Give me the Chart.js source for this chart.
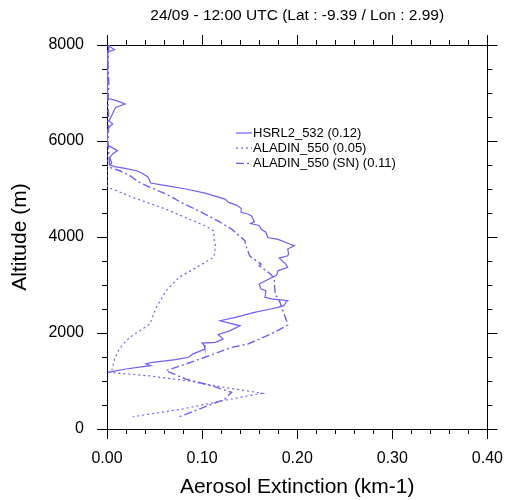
<!DOCTYPE html>
<html>
<head>
<meta charset="utf-8">
<script src="https://cdn.jsdelivr.net/npm/chart.js@4.4.1/dist/chart.umd.min.js"></script>
<style>
  html, body { margin: 0; padding: 0; background: #fff; }
  #wrap { width: 513px; height: 500px; }
</style>
</head>
<body>
<div id="wrap"><canvas id="profile" width="513" height="500"></canvas></div>
<script>
const plotTitle = "24/09 - 12:00 UTC (Lat : -9.39 / Lon : 2.99)";
const seriesLabels = ["HSRL2_532 (0.12)", "ALADIN_550 (0.05)", "ALADIN_550 (SN) (0.11)"];
const xTicks = [0, 0.1, 0.2, 0.3, 0.4];
const yTicks = [0, 2000, 4000, 6000, 8000];

// HSRL2 532 nm profile
const hsrlAlt = [8000, 7980, 7900, 7860, 7700, 7400, 7100, 6890, 6840, 6770, 6700, 6530, 6420, 6355, 6285, 6215,
  6000, 5915, 5800, 5730, 5660, 5540, 5500, 5465, 5430, 5380, 5330, 5250, 5125, 5070, 5000, 4915, 4790, 4720,
  4665, 4600, 4515, 4480, 4440, 4320, 4280, 4240, 4165, 4100, 3990, 3950, 3855, 3820, 3750, 3650, 3610, 3560,
  3435, 3365, 3300, 3195, 3160, 3020, 2915, 2880, 2845, 2745, 2710, 2675, 2640, 2570, 2535, 2500, 2430, 2325,
  2255, 2150, 2045, 1970, 1875, 1805, 1790, 1750, 1665, 1560, 1495, 1445, 1390, 1355, 1320, 1300, 1250, 1180];
const hsrlExt = [0.001, 0.002, 0.008, 0.001, 0.000, 0.001, 0.000, 0.001, 0.010, 0.019, 0.009, 0.005, 0.002, 0.006, 0.002, 0.000,
  0.001, 0.000, 0.011, 0.006, 0.003, 0.005, 0.003, 0.008, 0.019, 0.031, 0.037, 0.043, 0.046, 0.062, 0.083, 0.103, 0.124, 0.128,
  0.136, 0.141, 0.141, 0.148, 0.152, 0.155, 0.151, 0.160, 0.162, 0.167, 0.169, 0.180, 0.192, 0.197, 0.190, 0.191, 0.190, 0.181,
  0.188, 0.190, 0.180, 0.178, 0.174, 0.160, 0.162, 0.167, 0.167, 0.166, 0.173, 0.190, 0.188, 0.186, 0.180, 0.172, 0.155, 0.135,
  0.119, 0.140, 0.129, 0.117, 0.122, 0.114, 0.100, 0.102, 0.103, 0.090, 0.086, 0.072, 0.048, 0.041, 0.046, 0.038, 0.020, 0.001];

// ALADIN 550 nm profile
const aladinAlt = [8000, 7000, 6000, 5500, 5100, 5035, 4965, 4825, 4580, 4375, 4235, 4130, 3890, 3820, 3645, 3575,
  3400, 3160, 2880, 2535, 2185, 1910, 1770, 1665, 1460, 1215, 1180, 1105, 1000, 865, 745, 625, 415, 255];
const aladinExt = [0.000, 0.000, 0.000, 0.000, 0.000, 0.001, 0.010, 0.027, 0.062, 0.086, 0.103, 0.112, 0.113, 0.114, 0.113, 0.112,
  0.097, 0.076, 0.062, 0.052, 0.045, 0.024, 0.017, 0.013, 0.008, 0.005, 0.002, 0.045, 0.086, 0.124, 0.163, 0.131, 0.079, 0.027];

// ALADIN 550 nm (SN) profile
const aladinSnAlt = [8000, 7600, 7200, 6800, 6400, 6000, 5700, 5450, 5385, 5280, 5140, 5035, 4895, 4700, 4530, 4330,
  4165, 4060, 3925, 3820, 3610, 3575, 3435, 3400, 3230, 3125, 3020, 2780, 2745, 2465, 2185, 2165, 1980, 1770,
  1700, 1495, 1355, 1215, 1040, 900, 765, 625, 415, 255];
const aladinSnExt = [0.002, 0.001, 0.002, 0.001, 0.002, 0.001, 0.002, 0.003, 0.013, 0.024, 0.034, 0.045, 0.062, 0.080, 0.098, 0.117,
  0.131, 0.137, 0.145, 0.146, 0.150, 0.152, 0.162, 0.160, 0.172, 0.176, 0.176, 0.177, 0.180, 0.185, 0.190, 0.190, 0.1725, 0.148,
  0.131, 0.103, 0.083, 0.062, 0.083, 0.110, 0.131, 0.124, 0.097, 0.076];

const lineColor = "#7a5af5";
const fontFamily = "'Liberation Sans', Arial, Helvetica, sans-serif";

function toPoints(alts, exts) {
  return alts.map((a, i) => ({ x: exts[i], y: a }));
}

// draws the top title, the in-plot legend and the minor ticks
const extras = {
  id: "extras",
  afterDraw(chart) {
    const c = chart.ctx;
    const area = chart.chartArea;
    c.save();
    c.fillStyle = "#000";
    c.font = "15.5px " + fontFamily;
    c.textAlign = "center";
    c.textBaseline = "middle";
    c.fillText(plotTitle, (area.left + area.right) / 2, 16);

    // minor ticks
    c.strokeStyle = "#000";
    c.lineWidth = 1;
    c.beginPath();
    for (let v = 0.02; v < 0.4; v += 0.02) {
      if (Math.abs(v * 10 - Math.round(v * 10)) < 1e-6) continue;
      const px = Math.round(chart.scales.x.getPixelForValue(v)) + 0.5;
      c.moveTo(px, area.bottom); c.lineTo(px, area.bottom + 5);
      c.moveTo(px, area.top); c.lineTo(px, area.top - 5);
    }
    for (let v = 500; v < 8000; v += 500) {
      if (v % 2000 === 0) continue;
      const py = Math.round(chart.scales.y.getPixelForValue(v)) + 0.5;
      c.moveTo(area.left, py); c.lineTo(area.left - 5, py);
      c.moveTo(area.right, py); c.lineTo(area.right + 5, py);
    }
    c.stroke();

    // legend
    c.font = "13px " + fontFamily;
    c.textAlign = "left";
    chart.data.datasets.forEach((ds, i) => {
      const y = 133 + i * 15.2;
      c.strokeStyle = ds.borderColor;
      c.lineWidth = 1.2;
      c.setLineDash(ds.borderDash || []);
      c.beginPath();
      c.moveTo(236, y); c.lineTo(252, y);
      c.stroke();
      c.setLineDash([]);
      c.fillStyle = "#000";
      c.fillText(ds.label, 253, y);
    });
    c.restore();
  }
};

const axisLine = { display: true, color: "#000", width: 1 };
const tickGrid = { drawOnChartArea: false, drawTicks: true, tickLength: 10, color: "#000", lineWidth: 1 };

new Chart(document.getElementById("profile"), {
  type: "scatter",
  data: {
    datasets: [
      { label: seriesLabels[0], data: toPoints(hsrlAlt, hsrlExt), borderColor: lineColor, borderWidth: 1.2 },
      { label: seriesLabels[1], data: toPoints(aladinAlt, aladinExt), borderColor: lineColor, borderWidth: 1.2, borderDash: [2, 3] },
      { label: seriesLabels[2], data: toPoints(aladinSnAlt, aladinSnExt), borderColor: lineColor, borderWidth: 1.4, borderDash: [8, 3, 2, 3] }
    ].map(d => Object.assign(d, { showLine: true, pointRadius: 0, fill: false, tension: 0 }))
  },
  options: {
    responsive: false,
    animation: false,
    devicePixelRatio: 1,
    layout: { padding: 0 },
    plugins: { legend: { display: false }, title: { display: false }, tooltip: { enabled: false } },
    scales: {
      x: {
        type: "linear", position: "bottom", min: 0, max: 0.4,
        afterBuildTicks: s => { s.ticks = xTicks.map(v => ({ value: v })); },
        ticks: { callback: v => v.toFixed(2), color: "#000", padding: 10, maxRotation: 0, font: { family: fontFamily, size: 16 } },
        grid: tickGrid, border: axisLine,
        title: { display: true, text: "Aerosol Extinction (km-1)", color: "#000", padding: 0, font: { family: fontFamily, size: 21 } },
        afterFit: s => { s.height = 71; }
      },
      x2: {
        type: "linear", position: "top", min: 0, max: 0.4,
        afterBuildTicks: s => { s.ticks = xTicks.map(v => ({ value: v })); },
        ticks: { display: false },
        grid: tickGrid, border: axisLine,
        afterFit: s => { s.height = 45; }
      },
      y: {
        type: "linear", position: "left", min: 0, max: 8000,
        afterBuildTicks: s => { s.ticks = yTicks.map(v => ({ value: v })); },
        ticks: { callback: v => String(v), color: "#000", padding: 13, font: { family: fontFamily, size: 16 } },
        grid: tickGrid, border: axisLine,
        title: { display: true, text: "Altitude (m)", color: "#000", padding: { top: 8, bottom: 0 }, font: { family: fontFamily, size: 21 } },
        afterFit: s => { s.width = 107; }
      },
      y2: {
        type: "linear", position: "right", min: 0, max: 8000,
        afterBuildTicks: s => { s.ticks = yTicks.map(v => ({ value: v })); },
        ticks: { display: false },
        grid: tickGrid, border: axisLine,
        afterFit: s => { s.width = 20; }
      }
    }
  },
  plugins: [extras]
});
</script>
</body>
</html>
